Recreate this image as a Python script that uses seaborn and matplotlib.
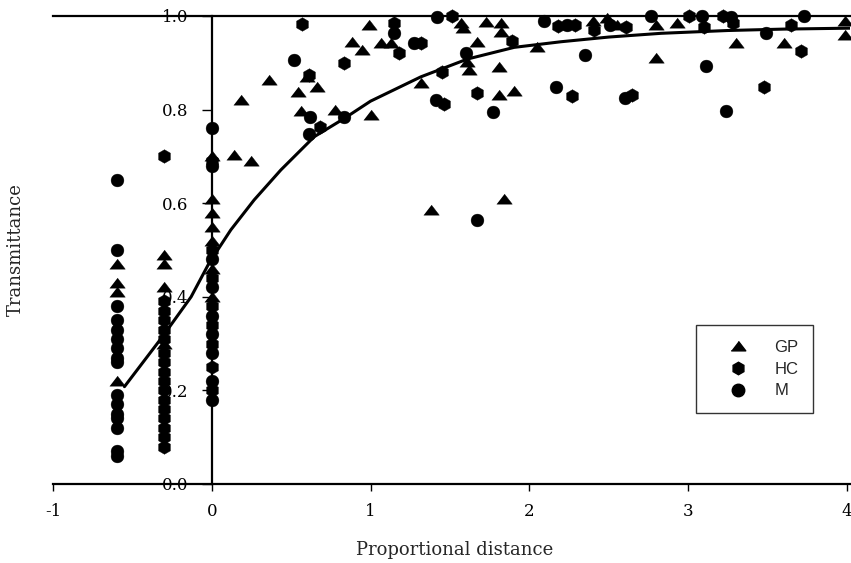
import numpy as np
import pandas as pd
import matplotlib
matplotlib.use("Agg")
import matplotlib.pyplot as plt
from matplotlib.lines import Line2D
import seaborn as sns

# ---------------- data ----------------
gp_x = [-0.6, -0.6, -0.6, -0.6,
        -0.3, -0.3, -0.3, -0.3,
        0.0, 0.0, 0.0, 0.0, 0.0, 0.0, 0.0,
        0.14, 0.25, 0.183, 0.361, 0.546, 0.565, 0.60, 0.66, 0.775, 0.886,
        0.945, 0.99, 1.0, 1.065, 1.13, 1.32, 1.38, 1.57, 1.58, 1.61,
        1.62, 1.67, 1.73, 1.81, 1.81, 1.82, 1.82, 1.84, 1.905, 2.05,
        2.4, 2.49, 2.55, 2.80, 2.80, 2.93, 3.30, 3.605, 3.99, 3.99]
gp_y = [0.47, 0.43, 0.41, 0.22,
        0.49, 0.47, 0.42, 0.30,
        0.70, 0.61, 0.58, 0.55, 0.52, 0.46, 0.40,
        0.703, 0.691, 0.82, 0.863, 0.837, 0.796, 0.87, 0.849, 0.80, 0.945,
        0.927, 0.981, 0.788, 0.942, 0.942, 0.856, 0.585, 0.984, 0.974, 0.902,
        0.885, 0.945, 0.988, 0.892, 0.831, 0.984, 0.966, 0.608, 0.84, 0.934,
        0.99, 0.995, 0.98, 0.98, 0.91, 0.984, 0.943, 0.943, 0.99, 0.96]

hc_x = [-0.3, -0.3, -0.3, -0.3, -0.3, -0.3, -0.3, -0.3, -0.3, -0.3,
        -0.3, -0.3, -0.3, -0.3, -0.3, -0.3, -0.3,
        0.0, 0.0, 0.0, 0.0, 0.0, 0.0, 0.0, 0.0,
        0.571, 0.613, 0.683, 0.83, 1.15, 1.18, 1.32, 1.516, 1.453, 1.46,
        1.67, 1.894, 2.18, 2.29, 2.266, 2.41, 2.61, 2.644, 3.007, 3.10,
        3.217, 3.28, 3.48, 3.65, 3.71]
hc_y = [0.70, 0.39, 0.37, 0.35, 0.33, 0.31, 0.28, 0.26, 0.24, 0.22,
        0.20, 0.18, 0.16, 0.14, 0.12, 0.10, 0.08,
        0.69, 0.50, 0.44, 0.38, 0.34, 0.30, 0.25, 0.20,
        0.983, 0.874, 0.763, 0.899, 0.986, 0.92, 0.943, 1.0, 0.88, 0.812,
        0.835, 0.947, 0.979, 0.98, 0.829, 0.971, 0.976, 0.831, 1.0, 0.977,
        1.0, 0.984, 0.848, 0.98, 0.926]

m_x = [-0.6, -0.6, -0.6, -0.6, -0.6, -0.6, -0.6, -0.6, -0.6, -0.6,
       -0.6, -0.6, -0.6, -0.6, -0.6, -0.6,
       0.0, 0.0, 0.0, 0.0, 0.0, 0.0, 0.0, 0.0, 0.0,
       0.518, 0.619, 0.613, 0.834, 1.15, 1.275, 1.417, 1.6, 1.41, 1.67,
       1.77, 2.093, 2.24, 2.167, 2.35, 2.51, 2.60, 2.765, 3.09, 3.116,
       3.27, 3.24, 3.49, 3.73]
m_y = [0.65, 0.50, 0.38, 0.35, 0.33, 0.31, 0.29, 0.27, 0.26, 0.19,
       0.17, 0.15, 0.14, 0.12, 0.07, 0.06,
       0.76, 0.68, 0.48, 0.42, 0.36, 0.32, 0.28, 0.22, 0.18,
       0.906, 0.785, 0.748, 0.784, 0.963, 0.943, 0.998, 0.92, 0.82, 0.564,
       0.794, 0.99, 0.98, 0.848, 0.917, 0.98, 0.824, 1.0, 1.0, 0.893,
       0.997, 0.798, 0.964, 1.0]

curve_x = [-0.55, -0.31, -0.13, -0.017, 0.12, 0.267, 0.435, 0.645, 0.834,
           1.0, 1.317, 1.61, 1.905, 2.2, 2.5, 2.83, 3.25, 3.6, 4.02]
curve_y = [0.208, 0.315, 0.40, 0.472, 0.543, 0.607, 0.671, 0.742, 0.781,
           0.818, 0.870, 0.908, 0.933, 0.945, 0.955, 0.963, 0.969, 0.972, 0.974]

sites = ["GP", "HC", "M"]
x_ticks = [-1, 0, 1, 2, 3, 4]
y_ticks = [0.0, 0.2, 0.4, 0.6, 0.8, 1.0]
y_ticklabels = ["0.0", "0.2", "0.4", "0.6", "0.8", "1.0"]

df = pd.concat([
    pd.DataFrame({"x": gp_x, "y": gp_y, "site": "GP"}),
    pd.DataFrame({"x": hc_x, "y": hc_y, "site": "HC"}),
    pd.DataFrame({"x": m_x, "y": m_y, "site": "M"}),
], ignore_index=True)
curve = pd.DataFrame({"x": curve_x, "y": curve_y})

# ---------------- figure ----------------
sns.set_style("white")
plt.rcParams["font.family"] = ["DejaVu Serif"]

W, H = 851, 563
fig = plt.figure(figsize=(W / 100, H / 100), dpi=100)
ax = fig.add_axes([53 / W, (H - 484) / H, 797 / W, 468 / H])

tri = [(-1, -0.6), (1, -0.6), (0, 0.7)]
marker_map = {"GP": tri, "HC": "h", "M": "o"}
size_map = {"GP": 125, "HC": 95, "M": 85}

sns.lineplot(data=curve, x="x", y="y", color="black", lw=2.2,
             estimator=None, sort=False, ax=ax, zorder=2)
for s in sites:
    sub = df[df["site"] == s]
    sns.scatterplot(data=sub, x="x", y="y", marker=marker_map[s],
                    s=size_map[s], color="black", edgecolor="black",
                    linewidth=0.3, ax=ax, legend=False, zorder=3,
                    clip_on=False)

ax.set_xlim(-1, 4.02)
ax.set_ylim(0, 1.0)

ax.spines["right"].set_visible(False)
for side in ["left", "bottom", "top"]:
    ax.spines[side].set_linewidth(1.6)
    ax.spines[side].set_color("black")
ax.spines["left"].set_position(("data", 0))

ax.set_xticks(x_ticks)
ax.set_xticklabels([str(t) for t in x_ticks])
ax.set_yticks(y_ticks)
ax.set_yticklabels(y_ticklabels)
ax.tick_params(axis="x", direction="out", length=5, width=1, pad=9,
               labelsize=12, colors="black", top=False, bottom=True)
ax.tick_params(axis="y", direction="out", length=7, width=1, pad=10,
               labelsize=12, colors="black", left=True, right=False)

ax.set_xlabel("Proportional distance", fontsize=13, va="center")
ax.xaxis.set_label_coords(0.504, -0.141)
ax.set_ylabel("Transmittance", fontsize=13, va="center", ha="center")
ax.yaxis.set_label_coords(-0.046, 0.5)
ax.grid(False)

handles = [
    Line2D([], [], marker=tri, color="black", ls="none", markersize=10.5),
    Line2D([], [], marker="h", color="black", ls="none", markersize=9),
    Line2D([], [], marker="o", color="black", ls="none", markersize=9),
]
leg = fig.legend(handles, sites, loc="upper left",
                 bbox_to_anchor=(696 / W, 1 - 325 / H),
                 bbox_transform=fig.transFigure,
                 prop={"family": "Liberation Sans", "size": 12},
                 frameon=True, fancybox=False, edgecolor="black",
                 borderpad=0.9, labelspacing=0.4, handlelength=3.2,
                 handletextpad=0.6, borderaxespad=0)
leg.get_frame().set_linewidth(1.0)

fig.savefig("out.png", dpi=100, facecolor="white")
